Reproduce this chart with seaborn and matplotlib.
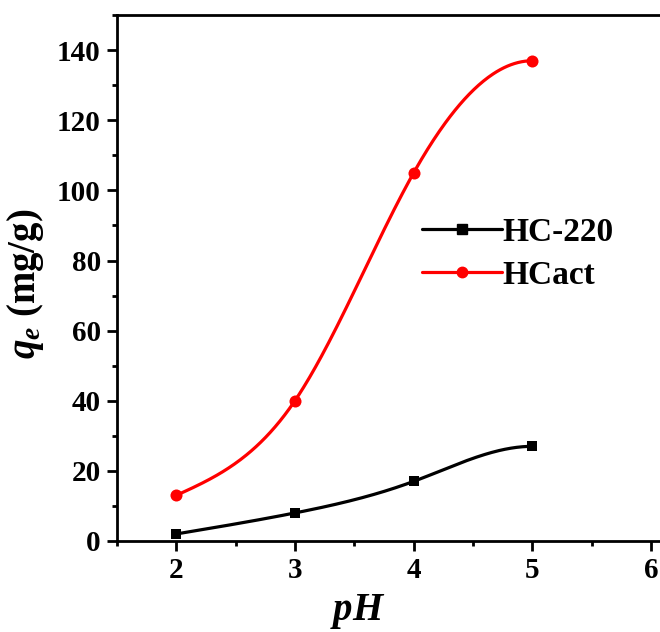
import numpy as np
import pandas as pd
import matplotlib
matplotlib.use("Agg")
import matplotlib.pyplot as plt
import seaborn as sns
from matplotlib.lines import Line2D
from matplotlib.ticker import MultipleLocator

ph = [2, 3, 4, 5]
hc220 = [2, 8, 17, 27]
hcact = [13, 40, 105, 137]
series_names = ["HC-220", "HCact"]
colors = ["black", "red"]
markers = ["s", "o"]

sns.set_style("ticks")
plt.rcParams['font.family'] = ['Liberation Serif', 'DejaVu Serif']
plt.rcParams['mathtext.fontset'] = 'custom'
plt.rcParams['mathtext.it'] = 'Liberation Serif:italic:bold'
plt.rcParams['mathtext.rm'] = 'Liberation Serif:bold'
plt.rcParams['text.color'] = 'black'
plt.rcParams['axes.labelcolor'] = 'black'
plt.rcParams['xtick.color'] = 'black'
plt.rcParams['ytick.color'] = 'black'


def smooth_spline(x, y, n=300):
    """Cubic spline: natural at the left end, zero slope at the right end."""
    x = np.asarray(x, float); y = np.asarray(y, float)
    k = len(x)
    h = np.diff(x)
    A = np.zeros((k, k)); b = np.zeros(k)
    A[0, 0] = 1
    for i in range(1, k - 1):
        A[i, i - 1] = h[i - 1]; A[i, i] = 2 * (h[i - 1] + h[i]); A[i, i + 1] = h[i]
        b[i] = 6 * ((y[i + 1] - y[i]) / h[i] - (y[i] - y[i - 1]) / h[i - 1])
    A[-1, -2] = h[-1]; A[-1, -1] = 2 * h[-1]
    b[-1] = 6 * (0 - (y[-1] - y[-2]) / h[-1])
    M = np.linalg.solve(A, b)
    xs = np.linspace(x[0], x[-1], n)
    ys = np.empty_like(xs)
    for j, xv in enumerate(xs):
        i = min(np.searchsorted(x, xv, side='right') - 1, k - 2)
        t0 = x[i + 1] - xv; t1 = xv - x[i]
        ys[j] = (M[i] * t0**3 + M[i + 1] * t1**3) / (6 * h[i]) \
            + (y[i] / h[i] - M[i] * h[i] / 6) * t0 + (y[i + 1] / h[i] - M[i + 1] * h[i] / 6) * t1
    return xs, ys


fig = plt.figure(figsize=(6.6, 6.32), dpi=100)
ax = fig.add_axes([0.177, 0.144, 0.831, 0.832])

for name, vals, c, m in zip(series_names, [hc220, hcact], colors, markers):
    xs, ys = smooth_spline(ph, vals)
    sns.lineplot(x=xs, y=ys, color=c, lw=2.3, ax=ax, estimator=None, sort=False)
    sns.scatterplot(x=ph, y=vals, color=c, marker=m, s=75 if m == 'o' else 48,
                    edgecolor=c, linewidth=0, ax=ax, zorder=5)

ax.set_xlim(1.5, 6.12)
ax.set_ylim(0, 150)
ax.xaxis.set_minor_locator(MultipleLocator(0.5))
ax.yaxis.set_minor_locator(MultipleLocator(10))
ax.set_xticks([2, 3, 4, 5, 6])
ax.set_yticks([0, 20, 40, 60, 80, 100, 120, 140])
for s in ax.spines.values():
    s.set_linewidth(2)
    s.set_color('black')
ax.tick_params(which='major', direction='out', length=7.5, width=2, labelsize=21, pad=4,
               colors='black')
ax.tick_params(which='minor', direction='out', length=3.8, width=2, colors='black')
for lab in ax.get_xticklabels() + ax.get_yticklabels():
    lab.set_fontweight('bold')

ax.set_xlabel(r'$pH$', fontsize=28)
ax.xaxis.set_label_coords(0.44, -0.097)
ax.set_ylabel(r'$q_e$ (mg/g)', fontsize=28, fontweight='bold')
ax.yaxis.set_label_coords(-0.13, 0.49)

handles = [Line2D([], [], color=c, marker=m, lw=2.3, markersize=6.5 if m == 's' else 7.5)
           for c, m in zip(colors, markers)]
leg = ax.legend(handles, series_names, loc='center left', bbox_to_anchor=(0.557, 0.546),
                frameon=False, handlelength=2.4, handletextpad=0.0, borderpad=0,
                borderaxespad=0,
                prop={'family': 'Liberation Serif', 'weight': 'bold', 'size': 24},
                labelspacing=0.35)
for t in leg.get_texts():
    t.set_color('black')

fig.savefig("out.png", dpi=100)
